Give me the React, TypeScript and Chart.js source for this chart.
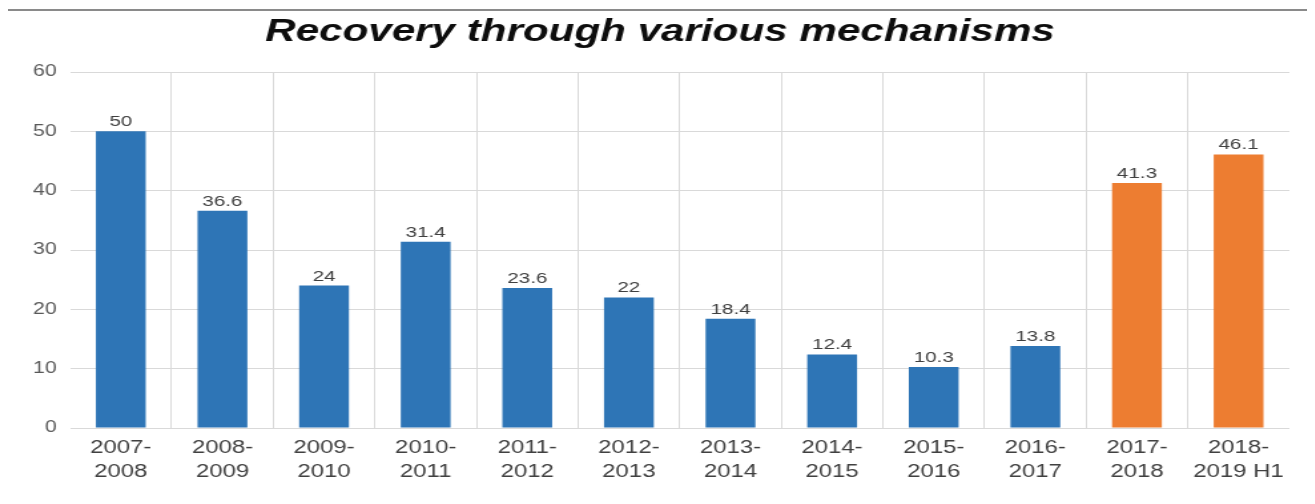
import React, { useEffect, useRef } from "react";
import { Chart, registerables } from "chart.js";

Chart.register(...registerables);

const title = "Recovery through various mechanisms";
const categories: string[][] = [
  ["2007-", "2008"],
  ["2008-", "2009"],
  ["2009-", "2010"],
  ["2010-", "2011"],
  ["2011-", "2012"],
  ["2012-", "2013"],
  ["2013-", "2014"],
  ["2014-", "2015"],
  ["2015-", "2016"],
  ["2016-", "2017"],
  ["2017-", "2018"],
  ["2018-", "2019 H1"],
];
const values = [50, 36.6, 24, 31.4, 23.6, 22, 18.4, 12.4, 10.3, 13.8, 41.3, 46.1];
const valueLabels = ["50", "36.6", "24", "31.4", "23.6", "22", "18.4", "12.4", "10.3", "13.8", "41.3", "46.1"];
const highlighted = [false, false, false, false, false, false, false, false, false, false, true, true];
const yMin = 0;
const yMax = 60;
const yStep = 10;

const BLUE = "#2e75b6";
const ORANGE = "#ed7d31";
const FONT = "'Liberation Sans', Arial, sans-serif";

const labelPlugin = {
  id: "valueLabels",
  afterDatasetsDraw(chart: any) {
    const ctx = chart.ctx;
    const meta = chart.getDatasetMeta(0);
    ctx.save();
    ctx.font = `15.5px ${FONT}`;
    ctx.fillStyle = "#404040";
    ctx.textAlign = "center";
    ctx.textBaseline = "alphabetic";
    meta.data.forEach((bar: any, i: number) => {
      ctx.fillText(valueLabels[i], bar.x, bar.y - 5);
    });
    ctx.restore();
  },
};

export default function App() {
  const ref = useRef<HTMLCanvasElement | null>(null);

  useEffect(() => {
    if (!ref.current) return;
    const chart = new Chart(ref.current, {
      type: "bar",
      data: {
        labels: categories,
        datasets: [
          {
            data: values,
            backgroundColor: highlighted.map((h) => (h ? ORANGE : BLUE)),
            barPercentage: 0.49,
            categoryPercentage: 1,
          },
        ],
      },
      options: {
        responsive: false,
        animation: false,
        devicePixelRatio: 1,
        layout: { padding: { top: 5, left: 17, right: 17, bottom: 0 } },
        plugins: {
          legend: { display: false },
          tooltip: { enabled: false },
          title: {
            display: true,
            text: title,
            color: "#0d0d0d",
            font: { family: FONT, size: 31.7, weight: "bold", style: "italic", lineHeight: 1 },
            padding: { top: 0, bottom: 24.3 },
          },
        },
        scales: {
          x: {
            offset: true,
            grid: {
              offset: true,
              drawTicks: false,
              color: (ctx: any) =>
                ctx.type !== "tick" || ctx.index === 0 ? "rgba(0,0,0,0)" : "#d9d9d9",
            },
            border: { display: false },
            ticks: {
              autoSkip: false,
              maxRotation: 0,
              minRotation: 0,
              padding: 8.5,
              color: "#404040",
              font: { family: FONT, size: 18, lineHeight: 1.33 },
            },
            afterFit: (scale: any) => {
              scale.height = 78;
            },
          },
          y: {
            min: yMin,
            max: yMax,
            grid: { color: "#d9d9d9", drawTicks: false },
            border: { display: false },
            ticks: {
              stepSize: yStep,
              padding: 10,
              color: "#595959",
              font: { family: FONT, size: 16 },
            },
            afterFit: (scale: any) => {
              scale.width = 29.6;
            },
          },
        },
      },
      plugins: [labelPlugin],
    });
    return () => chart.destroy();
  }, []);

  return (
    <div
      style={{
        marginLeft: -2,
        marginTop: 1,
        width: 1304,
        height: 500,
        border: "2px solid #8a8a8a",
        background: "#ffffff",
        overflow: "hidden",
      }}
    >
      <canvas
        ref={ref}
        width={980}
        height={495}
        style={{ display: "block", width: "1304px", height: "495px" }}
      />
    </div>
  );
}
